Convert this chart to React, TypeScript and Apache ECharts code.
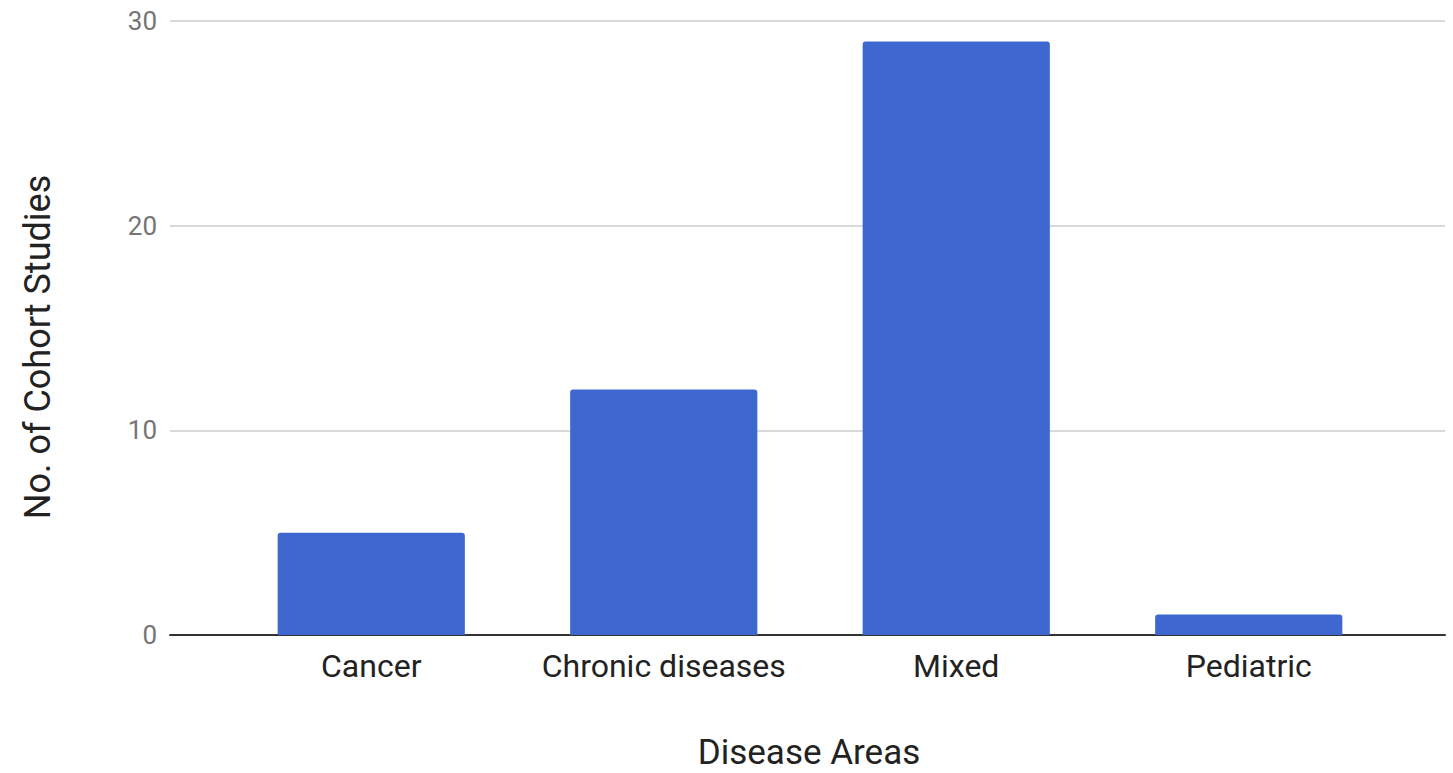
import React, { useEffect, useRef } from "react";
import * as echarts from "echarts";

const categories = ["Cancer", "Chronic diseases", "Mixed", "Pediatric"];
const studyCounts = [5, 12, 29, 1];
const yTicks = [0, 10, 20, 30];

export default function App() {
  const ref = useRef<HTMLDivElement>(null);
  useEffect(() => {
    if (!ref.current) return;
    const chart = echarts.init(ref.current, null, { renderer: "svg" });
    const font = "Roboto, 'Noto Sans', sans-serif";
    chart.setOption({
      animation: false,
      backgroundColor: "#ffffff",
      grid: [
        { left: 170, right: 8, top: 21, bottom: 138 },
        { left: 225, right: 58, top: 21, bottom: 138 },
      ],
      xAxis: [
        {
          type: "category",
          gridIndex: 0,
          data: [""],
          axisLine: { show: true, lineStyle: { color: "#333333", width: 2 } },
          axisTick: { show: false },
          axisLabel: { show: false },
          splitLine: { show: false },
        },
        {
          type: "category",
          gridIndex: 1,
          data: categories,
          axisLine: { show: false },
          axisTick: { show: false },
          axisLabel: {
            color: "#222222",
            fontFamily: font,
            fontSize: 32,
            margin: 15,
            interval: 0,
          },
        },
      ],
      yAxis: [
        {
          type: "value",
          gridIndex: 0,
          min: yTicks[0],
          max: yTicks[yTicks.length - 1],
          interval: 10,
          axisLine: { show: false },
          axisTick: { show: false },
          axisLabel: { color: "#757575", fontFamily: font, fontSize: 26, margin: 13 },
          splitLine: { lineStyle: { color: "#d9d9d9", width: 2 } },
        },
        {
          type: "value",
          gridIndex: 1,
          min: 0,
          max: 30,
          interval: 10,
          show: false,
          splitLine: { show: false },
        },
      ],
      series: [
        {
          type: "bar",
          xAxisIndex: 1,
          yAxisIndex: 1,
          data: studyCounts,
          barWidth: "64%",
          itemStyle: { color: "#3e68d0", borderRadius: [3, 3, 0, 0] },
          z: 3,
        },
      ],
      graphic: [
        {
          type: "text",
          x: 809,
          y: 752,
          style: {
            text: "Disease Areas",
            font: `35px ${font}`,
            fill: "#222222",
            align: "center",
            verticalAlign: "middle",
          },
        },
        {
          type: "text",
          x: 38,
          y: 347,
          rotation: Math.PI / 2,
          style: {
            text: "No. of Cohort Studies",
            font: `36px ${font}`,
            fill: "#222222",
            align: "center",
            verticalAlign: "middle",
          },
        },
      ],
    });
    return () => chart.dispose();
  }, []);
  return (
    <div
      ref={ref}
      style={{ position: "fixed", left: 0, top: 0, width: 1453, height: 773 }}
    />
  );
}
